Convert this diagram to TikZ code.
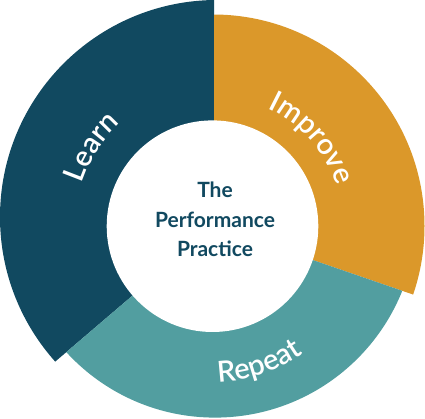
\documentclass[tikz,border=0pt]{standalone}
\usepackage{fontspec}
\setmainfont{Lato}
\IfFontExistsTF{Lato Semibold}{\newfontfamily\lblfam{Lato Semibold}}{\newfontfamily\lblfam{Lato}[UprightFont=*-Bold]}
\usetikzlibrary{decorations.text}
\definecolor{learnc}{RGB}{17,73,96}
\definecolor{improvec}{RGB}{219,152,42}
\definecolor{repeatc}{RGB}{82,158,160}
\newcommand{\lblfont}{\lblfam\fontsize{29}{33}\selectfont}
\newcommand{\ctrfont}{\fontsize{21}{25}\selectfont\bfseries}
\tikzset{
  seglabel/.style={decorate, decoration={text along path, text align=center, text color=white}},
  ctrtext/.style={anchor=base, inner sep=0pt, text=learnc, font=\ctrfont}
}
\begin{document}
\begin{tikzpicture}[x=1pt,y=1pt]
\useasboundingbox (0,0) rectangle (425,419);
\coordinate (O) at (214,193);
\coordinate (C) at (213,193);
% Learn
\begin{scope}
  \clip (O) -- ++(90:400) -- ([shift={(155:400)}]O) -- ([shift={(220.5:400)}]O) -- cycle;
  \fill[learnc] (217,202) circle (217);
\end{scope}
% Improve
\begin{scope}
  \clip (O) -- ([shift={(-19:400)}]O) -- ([shift={(35:400)}]O) -- ([shift={(90:400)}]O) -- cycle;
  \fill[improvec] (213,193) circle (211.5);
\end{scope}
% Repeat
\begin{scope}
  \clip (O) -- ([shift={(220.5:400)}]O) -- ([shift={(280:400)}]O) -- ([shift={(341:400)}]O) -- cycle;
  \fill[repeatc] (215,203) circle (201.6);
\end{scope}
% inner hole
\fill[white] (212.5,192.8) circle (105.8);
% center text
\node[ctrtext] (t1) at (215,221) {The};
\node[ctrtext] (t2) at (215,191.3) {Performance};
\node[ctrtext] (t3) at (215,162) {Practice};
% labels
\path[seglabel, decoration={text={|\lblfont|Learn}}] ([shift={(182:138)}]C) arc[start angle=182, end angle=112, radius=138];
\path[seglabel, decoration={text={|\lblfont|Improve}}] ([shift={(80:130)}]C) arc[start angle=80, end angle=3.2, radius=130];
\path[seglabel, decoration={text={|\lblfont|Repeat}}] ([shift={(-110:156)}]C) arc[start angle=-110, end angle=-33, radius=156];
\end{tikzpicture}
\end{document}
